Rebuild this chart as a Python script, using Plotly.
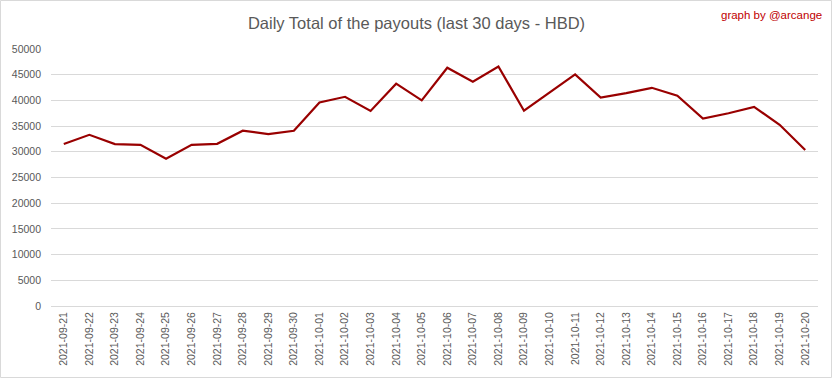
import plotly.graph_objects as go

dates = ["2021-09-21", "2021-09-22", "2021-09-23", "2021-09-24", "2021-09-25",
         "2021-09-26", "2021-09-27", "2021-09-28", "2021-09-29", "2021-09-30",
         "2021-10-01", "2021-10-02", "2021-10-03", "2021-10-04", "2021-10-05",
         "2021-10-06", "2021-10-07", "2021-10-08", "2021-10-09", "2021-10-10",
         "2021-10-11", "2021-10-12", "2021-10-13", "2021-10-14", "2021-10-15",
         "2021-10-16", "2021-10-17", "2021-10-18", "2021-10-19", "2021-10-20"]
payouts = [31500, 33300, 31500, 31350, 28650,
           31350, 31550, 34100, 33450, 34100,
           39600, 40700, 37950, 43250, 40000,
           46350, 43650, 46600, 38000, 41600,
           45050, 40550, 41400, 42450, 40900,
           36450, 37500, 38750, 35250, 30350]
y_ticks = [0, 5000, 10000, 15000, 20000, 25000, 30000, 35000, 40000, 45000, 50000]
y_tick_labels = [str(v) for v in y_ticks]

FONT = "Liberation Sans"
GRAY = "#595959"

fig = go.Figure()
fig.add_trace(go.Scatter(x=dates, y=payouts, mode="lines",
                         line=dict(color="#990000", width=2.2)))

fig.update_layout(
    width=833, height=379,
    margin=dict(l=51, r=15, t=49, b=73, autoexpand=False),
    paper_bgcolor="white", plot_bgcolor="white",
    showlegend=False,
    font=dict(family=FONT, color=GRAY, size=10),
    title=dict(text="Daily Total of the payouts (last 30 days - HBD)",
               x=0.5, xanchor="center", y=0.94, yanchor="middle",
               font=dict(family=FONT, size=16.5, color=GRAY)),
    xaxis=dict(type="category", tickangle=-90, showgrid=False, automargin=False,
               range=[-0.5, len(dates) - 0.5],
               showline=False, ticks="", ticklabelstandoff=3,
               tickfont=dict(size=10.5, color=GRAY)),
    yaxis=dict(range=[0, 50000], tickvals=y_ticks, ticktext=y_tick_labels,
               showgrid=True, automargin=False,
               gridcolor="#d9d9d9", gridwidth=1, zeroline=True,
               zerolinecolor="#d9d9d9", zerolinewidth=1, showline=False,
               ticks="", tickfont=dict(size=10.5, color=GRAY), ticklabelstandoff=9),
    annotations=[dict(text="graph by @arcange", xref="paper", yref="paper",
                      x=1.0, y=1.0, xanchor="right", yanchor="middle",
                      yshift=34, xshift=6, showarrow=False,
                      font=dict(family=FONT, size=11.5, color="#c00000"))],
    shapes=[dict(type="rect", xref="paper", yref="paper",
                 x0=-50.5/767, x1=1 + 13.5/767, y0=-71.5/257, y1=1 + 48.5/257,
                 line=dict(color="#d9d9d9", width=1), fillcolor="rgba(0,0,0,0)")],
)

fig.write_html("out.html", config={"displayModeBar": False},
               post_script="document.body.style.margin='0';document.body.style.overflow='hidden';")
